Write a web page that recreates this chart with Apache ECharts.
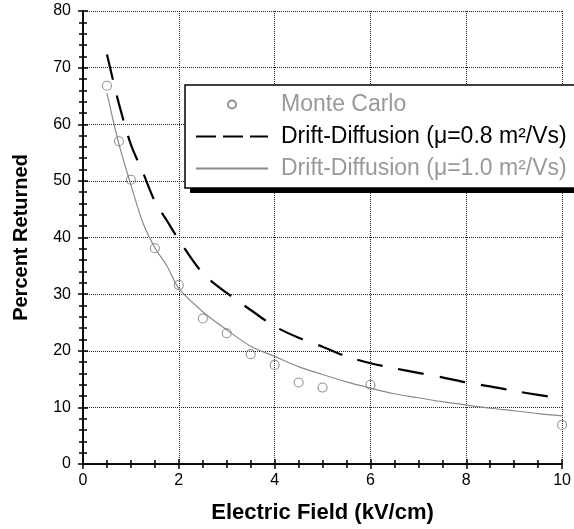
<!DOCTYPE html>
<html>
<head>
<meta charset="utf-8">
<script src="https://cdn.jsdelivr.net/npm/echarts@6/dist/echarts.min.js"></script>
<style>html,body{margin:0;padding:0;background:#fff;}#c{width:574px;height:529px;}</style>
</head>
<body>
<div id="c"></div>
<script>
// Monte Carlo points
var mcX = [0.5, 0.75, 1, 1.5, 2, 2.5, 3, 3.5, 4, 4.5, 5, 6, 10];
var mcY = [66.8, 57, 50.2, 38.1, 31.6, 25.7, 23.1, 19.4, 17.5, 14.4, 13.5, 14.0, 6.9];
// Drift-Diffusion curves (sampled)
var ddX = [0.5, 0.75, 1, 1.25, 1.5, 1.75, 2, 2.5, 3, 3.5, 4, 4.5, 5, 5.5, 6, 6.5, 7, 7.5, 8, 8.5, 9, 9.5, 10];
var dd08 = [72.3, 63.6, 56.4, 51.5, 46.4, 43.0, 39.6, 33.7, 30.2, 27.2, 24.3, 22.3, 20.7, 19.0, 17.8, 16.9, 16.1, 15.3, 14.4, 13.7, 12.9, 12.2, 11.6];
var dd10 = [65.5, 56.5, 49.3, 42.6, 38.2, 35.0, 31.0, 26.9, 23.7, 20.8, 19.0, 17.2, 15.8, 14.5, 13.4, 12.4, 11.7, 11.0, 10.4, 9.85, 9.4, 8.9, 8.5];
var seriesNames = ['Monte Carlo', 'Drift-Diffusion (\u03bc=0.8 m\u00b2/Vs)', 'Drift-Diffusion (\u03bc=1.0 m\u00b2/Vs)'];
var xTitle = 'Electric Field (kV/cm)';
var yTitle = 'Percent Returned';

function pairs(xs, ys) { return xs.map(function (x, i) { return [x, ys[i]]; }); }

var FONT = 'Liberation Sans, Arial, Helvetica, sans-serif';
var chart = echarts.init(document.getElementById('c'), null, {renderer: 'canvas'});

var baseX = {
  type: 'value', min: 0, max: 10, interval: 2,
  axisLine: {show: true, lineStyle: {color: '#000', width: 1.5}},
  axisTick: {show: true, inside: true, length: 5, lineStyle: {color: '#000', width: 1.5}},
  minorTick: {show: true, splitNumber: 4, length: 4, lineStyle: {color: '#000', width: 1.5}}
};
var baseY = {
  type: 'value', min: 0, max: 80, interval: 10,
  axisLine: {show: true, lineStyle: {color: '#000', width: 1.5}},
  axisTick: {show: true, inside: true, length: 5, lineStyle: {color: '#000', width: 1.5}},
  minorTick: {show: true, splitNumber: 5, length: 4, lineStyle: {color: '#000', width: 1.5}}
};

var option = {
  backgroundColor: '#fff',
  animation: false,
  grid: {left: 83, right: 11, top: 11, bottom: 65, containLabel: false},
  graphic: [
    {type: 'rect', left: 190, top: 90, z: 1, zlevel: 0,
     shape: {width: 420, height: 103}, style: {fill: '#000'}}
  ],
  xAxis: [
    Object.assign({}, baseX, {
      position: 'bottom',
      name: xTitle, nameLocation: 'middle', nameGap: 38,
      nameTextStyle: {fontFamily: FONT, fontWeight: 'bold', fontSize: 22, color: '#000'},
      axisLabel: {fontFamily: FONT, fontSize: 16, color: '#000', margin: 9},
      splitLine: {show: true, lineStyle: {color: '#222', type: 'dotted', width: 1}}
    }),
    Object.assign({}, baseX, {
      position: 'top', axisLabel: {show: false}, splitLine: {show: false}
    })
  ],
  yAxis: [
    Object.assign({}, baseY, {
      position: 'left',
      name: yTitle, nameLocation: 'middle', nameGap: 52, nameRotate: 90,
      nameTextStyle: {fontFamily: FONT, fontWeight: 'bold', fontSize: 20, color: '#000'},
      axisLabel: {fontFamily: FONT, fontSize: 16, color: '#000', margin: 12},
      splitLine: {show: true, lineStyle: {color: '#222', type: 'dotted', width: 1}}
    }),
    Object.assign({}, baseY, {
      position: 'right', axisLabel: {show: false}, splitLine: {show: false}
    })
  ],
  legend: {
    orient: 'vertical',
    left: 185, top: 85,
    padding: [8, 40, 8, 10],
    itemGap: 9,
    itemWidth: 72,
    itemHeight: 8,
    z: 10,
    backgroundColor: '#fff',
    borderColor: '#000',
    borderWidth: 1.5,
    borderRadius: 0,
    textStyle: {fontFamily: FONT, fontSize: 23, color: '#000', padding: [0, 0, 0, 8]},
    data: [
      {name: seriesNames[0], textStyle: {color: '#999'}},
      {name: seriesNames[1], textStyle: {color: '#000'}, lineStyle: {type: [20, 7]}, itemStyle: {opacity: 0}},
      {name: seriesNames[2], textStyle: {color: '#999'}, itemStyle: {opacity: 0}}
    ]
  },
  series: [
    {
      name: seriesNames[2], type: 'line', data: pairs(ddX, dd10), smooth: 0.3,
      showSymbol: false, symbol: 'none', z: 2,
      lineStyle: {color: '#8a8a8a', width: 1.2}, itemStyle: {color: '#8a8a8a'}
    },
    {
      name: seriesNames[1], type: 'line', data: pairs(ddX, dd08), smooth: 0.3,
      showSymbol: false, symbol: 'none', z: 3,
      lineStyle: {color: '#000', width: 2.2, type: [26, 16]}, itemStyle: {color: '#000'}
    },
    {
      name: seriesNames[0], type: 'scatter', data: pairs(mcX, mcY),
      symbol: 'circle', symbolSize: 9, z: 4,
      itemStyle: {color: 'rgba(255,255,255,0)', borderColor: '#777', borderWidth: 1.1}
    }
  ]
};
chart.setOption(option);
</script>
</body>
</html>
